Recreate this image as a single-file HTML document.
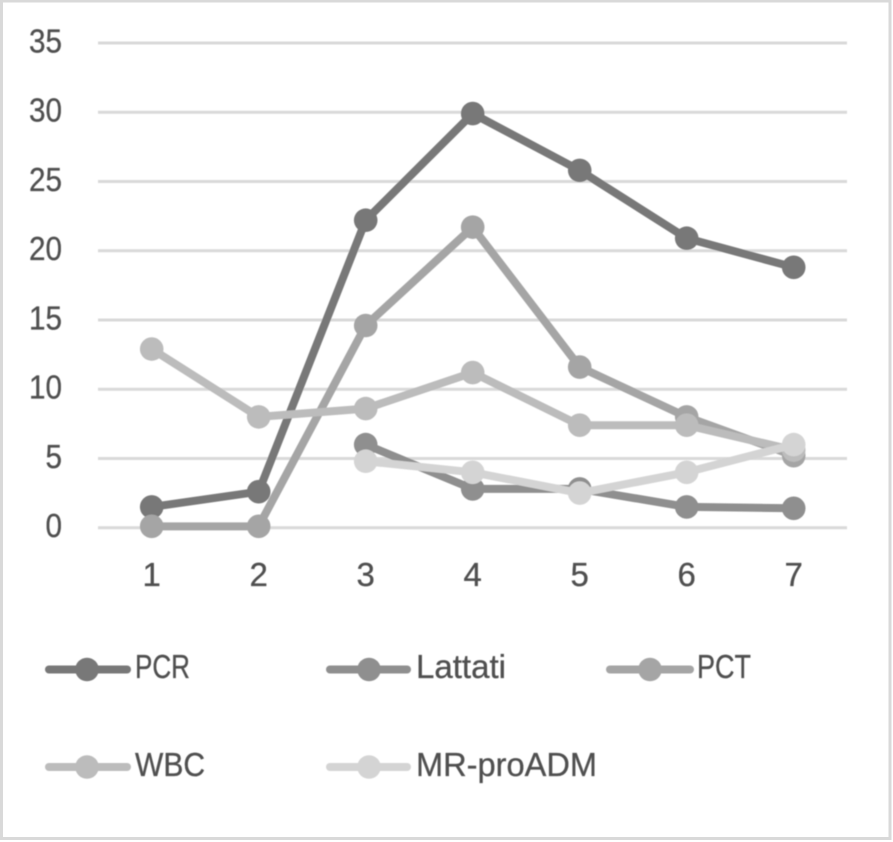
<!DOCTYPE html>
<html>
<head>
<meta charset="utf-8">
<style>
html,body{margin:0;padding:0;background:#fff;}
svg{display:block;}
text{font-family:"Liberation Sans",sans-serif;fill:#505050;stroke:#505050;stroke-width:0.3px;font-size:33px;}
</style>
</head>
<body>
<svg id="chart" width="893" height="842" viewBox="0 0 893 842" xmlns="http://www.w3.org/2000/svg">
<defs><filter id="soft" x="-5%" y="-5%" width="110%" height="110%"><feGaussianBlur stdDeviation="0.45"/></filter></defs>
<rect x="0" y="0" width="893" height="842" fill="#ffffff"/>
<rect x="1.5" y="1" width="888.5" height="837.5" fill="none" stroke="#d9d9d9" stroke-width="3"/>
<g id="root" filter="url(#soft)"></g>
</svg>
<script>
const categories = ["1", "2", "3", "4", "5", "6", "7"];
const yTicks = [0, 5, 10, 15, 20, 25, 30, 35];
const pcrValues = [1.5, 2.6, 22.2, 29.9, 25.8, 20.9, 18.8];
const lattatiValues = [null, null, 6.0, 2.8, 2.8, 1.5, 1.4];
const pctValues = [0.1, 0.1, 14.6, 21.7, 11.6, 8.0, 5.2];
const wbcValues = [12.9, 8.0, 8.6, 11.2, 7.4, 7.4, 5.6];
const mrProAdmValues = [null, null, 4.8, 4.0, 2.5, 4.0, 6.0];
const seriesNames = ["PCR", "Lattati", "PCT", "WBC", "MR-proADM"];

const seriesColors = ["#787878", "#8f8f8f", "#a5a5a5", "#bcbcbc", "#d4d4d4"];
const seriesValues = [pcrValues, lattatiValues, pctValues, wbcValues, mrProAdmValues];
const NS = "http://www.w3.org/2000/svg";
const root = document.getElementById("root");

function xScale(i) { return 151.7 + i * 107; }
function yScale(v) { return 527.7 - v * 13.85; }
function make(tag, attrs, parent) {
  const el = document.createElementNS(NS, tag);
  for (const k in attrs) el.setAttribute(k, attrs[k]);
  (parent || root).appendChild(el);
  return el;
}
function slug(s) { return s.toLowerCase().replace(/[^a-z0-9]+/g, "-"); }

yTicks.forEach(function (t) {
  const line = make("line", {x1: 98, x2: 847, y1: yScale(t), y2: yScale(t), stroke: "#d9d9d9", "stroke-width": 3});
  
  
  const s = String(t);
  const label = make("text", {x: 62, y: yScale(t) + 9.5, "text-anchor": "end", textLength: s.length * 16.5, lengthAdjust: "spacingAndGlyphs"});
  label.textContent = s;
  
  
});

categories.forEach(function (c, i) {
  const label = make("text", {x: xScale(i), y: 586, "text-anchor": "middle"});
  label.textContent = c;
  
  
});

seriesValues.forEach(function (vals, si) {
  const name = slug(seriesNames[si]);
  const g = make("g", {});
  
  
  const pts = [];
  vals.forEach(function (v, i) { if (v !== null) pts.push([xScale(i), yScale(v), categories[i]]); });
  const path = make("polyline", {
    points: pts.map(function (p) { return p[0] + "," + p[1]; }).join(" "),
    fill: "none", stroke: seriesColors[si], "stroke-width": 8, "stroke-linejoin": "round", "stroke-linecap": "round"
  }, g);
  
  
  pts.forEach(function (p) {
    const dot = make("circle", {cx: p[0], cy: p[1], r: 11.8, fill: seriesColors[si]}, g);
    
    
  });
});

const legendLayout = [
  {x1: 49, x2: 127, cx: 87, y: 669.5, tx: 135, base: 678, len: 55},
  {x1: 330, x2: 407, cx: 369, y: 669.5, tx: 416, base: 678, len: 90},
  {x1: 610, x2: 690, cx: 650, y: 669.5, tx: 697, base: 678, len: 54},
  {x1: 49, x2: 127, cx: 87, y: 767, tx: 135, base: 776, len: 70},
  {x1: 330, x2: 407, cx: 369, y: 767, tx: 416, base: 776, len: 181}
];
legendLayout.forEach(function (l, si) {
  const name = slug(seriesNames[si]);
  const g = make("g", {});
  
  
  const line = make("line", {x1: l.x1, x2: l.x2, y1: l.y, y2: l.y, stroke: seriesColors[si], "stroke-width": 8, "stroke-linecap": "round"}, g);
  
  
  const dot = make("circle", {cx: l.cx, cy: l.y, r: 11.8, fill: seriesColors[si]}, g);
  
  
  const t = make("text", {x: l.tx, y: l.base, textLength: l.len, lengthAdjust: "spacingAndGlyphs"}, g);
  t.textContent = seriesNames[si];
  
  
});
</script>
</body>
</html>
